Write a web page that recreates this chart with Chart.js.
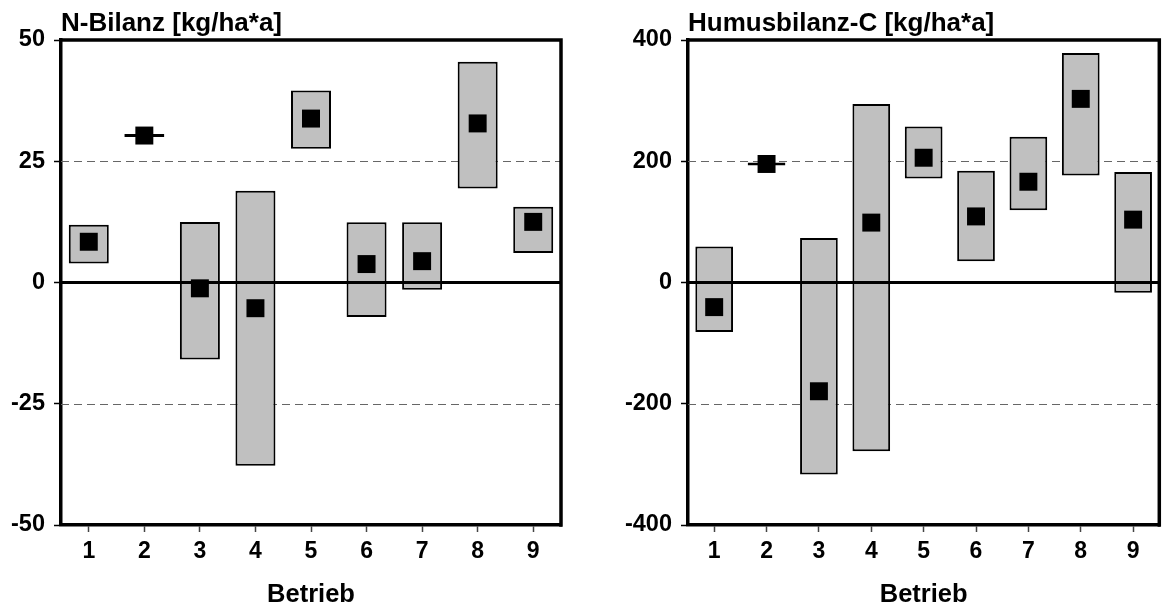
<!DOCTYPE html>
<html>
<head>
<meta charset="utf-8">
<script src="https://cdn.jsdelivr.net/npm/chart.js@4.4.1/dist/chart.umd.min.js"></script>
<style>
  html, body { margin: 0; padding: 0; background: #fff; }
  #wrap { position: relative; width: 1172px; height: 608px; }
  .box { position: absolute; top: 0; width: 586px; height: 608px; }
</style>
</head>
<body>
<div id="wrap">
  <div class="box" style="left:0"><canvas id="nChart"></canvas></div>
  <div class="box" style="left:586px"><canvas id="cChart"></canvas></div>
</div>
<script>
const betriebe = ['1', '2', '3', '4', '5', '6', '7', '8', '9'];

// N-Bilanz: Spannweite (min/max) und Mittelwert je Betrieb
const nMin    = [3.9, 30.0, -15.9, -37.8, 27.6, -7.1, -1.5, 19.4, 6.1];
const nMax    = [11.9, 30.6, 12.5, 18.9, 39.6, 12.4, 12.4, 45.5, 15.6];
const nMittel = [8.4, 30.3, -1.2, -5.3, 33.8, 3.8, 4.4, 32.8, 12.5];
const nTicks  = [-50, -25, 0, 25, 50];
const nHilfslinien = [-25, 25];

// Humusbilanz-C
const cMin    = [-81.8, 193, -316.6, -278.2, 171.7, 35, 119, 176.6, -17];
const cMax    = [59.3, 198, 73.6, 294.6, 257.3, 184.4, 240.3, 378.6, 182.2];
const cMittel = [-40.6, 195.5, -179.4, 98.8, 205.8, 109, 166.2, 302.9, 103.7];
const cTicks  = [-400, -200, 0, 200, 400];
const cHilfslinien = [-200, 200];

const FONT = "'Liberation Sans', Arial, sans-serif";

// Hilfslinien, Nulllinie, Rahmen und Überschrift
const rahmen = {
  id: 'rahmen',
  beforeDatasetsDraw(chart, args, opts) {
    const { ctx, chartArea: a, scales: { y } } = chart;
    ctx.save();
    ctx.strokeStyle = '#666';
    ctx.lineWidth = 1.2;
    ctx.setLineDash([8, 5]);
    opts.hilfslinien.forEach(v => {
      const py = Math.round(y.getPixelForValue(v)) + 0.5;
      ctx.beginPath();
      ctx.moveTo(a.left, py);
      ctx.lineTo(a.right, py);
      ctx.stroke();
    });
    ctx.restore();
  },
  afterDatasetDraw(chart, args) {
    if (args.meta.type !== 'bar') return;
    const { ctx, chartArea: a, scales: { y } } = chart;
    const py = y.getPixelForValue(0);
    ctx.save();
    ctx.strokeStyle = '#000';
    ctx.lineWidth = 3.2;
    ctx.beginPath();
    ctx.moveTo(a.left, py);
    ctx.lineTo(a.right, py);
    ctx.stroke();
    ctx.restore();
  },
  afterDraw(chart, args, opts) {
    const { ctx, chartArea: a } = chart;
    ctx.save();
    ctx.strokeStyle = '#000';
    ctx.lineWidth = 3.5;
    ctx.lineCap = 'square';
    ctx.beginPath();
    ctx.moveTo(a.left, a.top);
    ctx.lineTo(a.right, a.top);
    ctx.lineTo(a.right, a.bottom);
    ctx.stroke();
    ctx.fillStyle = '#000';
    ctx.font = 'bold 26px ' + FONT;
    ctx.textAlign = 'left';
    ctx.textBaseline = 'alphabetic';
    ctx.fillText(opts.titel, a.left, a.top - 9);
    ctx.restore();
  }
};

function zeichne(id, titel, min, max, mittel, ticks, hilfslinien, yBreite, rechts) {
  return new Chart(document.getElementById(id), {
    type: 'bar',
    data: {
      labels: betriebe,
      datasets: [
        {
          type: 'line',
          data: mittel,
          showLine: false,
          pointStyle: 'rect',
          pointRadius: 12.7,
          pointHoverRadius: 12.7,
          pointBackgroundColor: '#000',
          pointBorderWidth: 0,
          clip: false,
          order: 0
        },
        {
          type: 'bar',
          data: min.map((v, i) => [v, max[i]]),
          backgroundColor: '#c0c0c0',
          borderColor: '#000',
          borderWidth: 2,
          borderSkipped: false,
          barPercentage: 0.72,
          categoryPercentage: 1,
          order: 1
        }
      ]
    },
    options: {
      responsive: true,
      maintainAspectRatio: false,
      animation: false,
      events: [],
      layout: { padding: { top: 40, right: rechts, bottom: 0, left: 0 } },
      plugins: {
        legend: { display: false },
        tooltip: { enabled: false },
        rahmen: { titel: titel, hilfslinien: hilfslinien }
      },
      scales: {
        x: {
          offset: true,
          border: { display: true, color: '#000', width: 3.5 },
          grid: { display: true, drawOnChartArea: false, offset: false, tickLength: 7, tickColor: '#444', tickWidth: 1.5 },
          ticks: { color: '#000', padding: 6, maxRotation: 0, font: { family: FONT, weight: 'bold', size: 23 } },
          title: {
            display: true,
            text: 'Betrieb',
            color: '#000',
            padding: { top: 2, bottom: 0 },
            font: { family: FONT, weight: 'bold', size: 25.5, lineHeight: 1 }
          },
          afterFit(s) { s.height = 83; }
        },
        y: {
          min: ticks[0],
          max: ticks[ticks.length - 1],
          border: { display: true, color: '#000', width: 3.5 },
          grid: { display: true, drawOnChartArea: false, tickLength: 7, tickColor: '#000', tickWidth: 1.5 },
          ticks: { color: '#000', padding: 9, font: { family: FONT, weight: 'bold', size: 23.5 } },
          afterBuildTicks(s) { s.ticks = ticks.map(v => ({ value: v })); },
          afterFit(s) { s.width = yBreite; }
        }
      }
    },
    plugins: [rahmen]
  });
}

zeichne('nChart', 'N-Bilanz [kg/ha*a]', nMin, nMax, nMittel, nTicks, nHilfslinien, 61, 25);
zeichne('cChart', 'Humusbilanz-C [kg/ha*a]', cMin, cMax, cMittel, cTicks, cHilfslinien, 102, 1.5);
</script>
</body>
</html>
